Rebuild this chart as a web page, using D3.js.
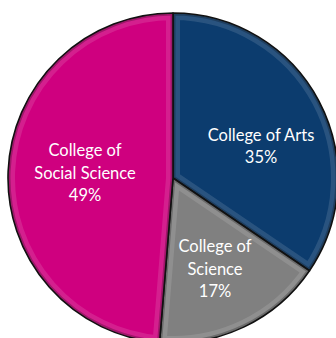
<!DOCTYPE html>
<html><head><meta charset="utf-8">
<script src="https://cdn.jsdelivr.net/npm/d3@7"></script>
<style>html,body{margin:0;padding:0;background:#fff;overflow:hidden}</style>
</head><body>
<svg id="c" width="336" height="338"></svg>
<script>
const categories = ["College of Arts", "College of Science", "College of Social Science"];
const values = [34.5, 16.8, 48.7];
const labelLines = [["College of Arts"], ["College of", "Science"], ["College of", "Social Science"]];
const percentLabels = ["35%", "17%", "49%"];
const colors = ["#0c3c6e", "#808080", "#cf007f"];

const svg = d3.select("#c");
const cx = 173, cy = 178, R = 165;
const g = svg.append("g").attr("transform", `translate(${cx},${cy})`);
const pie = d3.pie().sort(null).value(d => d)(values);
const arc = d3.arc().innerRadius(0).outerRadius(R);
const defs = svg.append("defs");

pie.forEach((p, i) => {
  defs.append("clipPath").attr("id", "cl" + i).append("path").attr("d", arc(p));
});

const slices = g.selectAll("g.s").data(pie).join("g").attr("class", "s");
slices.append("path").attr("d", arc).attr("fill", (d, i) => colors[i]);
// bevel highlight
slices.append("path").attr("d", arc).attr("fill", "none")
  .attr("clip-path", (d, i) => `url(#cl${i})`)
  .attr("stroke", "#fff").attr("stroke-opacity", 0.12).attr("stroke-width", 14);
slices.append("path").attr("d", arc).attr("fill", "none")
  .attr("clip-path", (d, i) => `url(#cl${i})`)
  .attr("stroke", "#000").attr("stroke-opacity", 0.25).attr("stroke-width", 5);
slices.append("path").attr("d", arc).attr("fill", "none")
  .attr("stroke", "#111").attr("stroke-width", 1.6).attr("stroke-linejoin", "round");

const labelPos = [[88, -32], [42, 91], [-88, -5]];
const lh = 22.5;
pie.forEach((p, i) => {
  const lines = labelLines[i].concat([percentLabels[i]]);
  const [lx, ly] = labelPos[i];
  const t = g.append("text").attr("text-anchor", "middle")
    .attr("font-family", "Lato, 'Open Sans', sans-serif").attr("font-size", 16.5)
    .attr("fill", "#fff");
  lines.forEach((s, k) => {
    t.append("tspan").attr("x", lx).attr("y", ly + (k - (lines.length - 1) / 2) * lh)
      .attr("dy", "0.35em").text(s);
  });
});
</script>
</body></html>
